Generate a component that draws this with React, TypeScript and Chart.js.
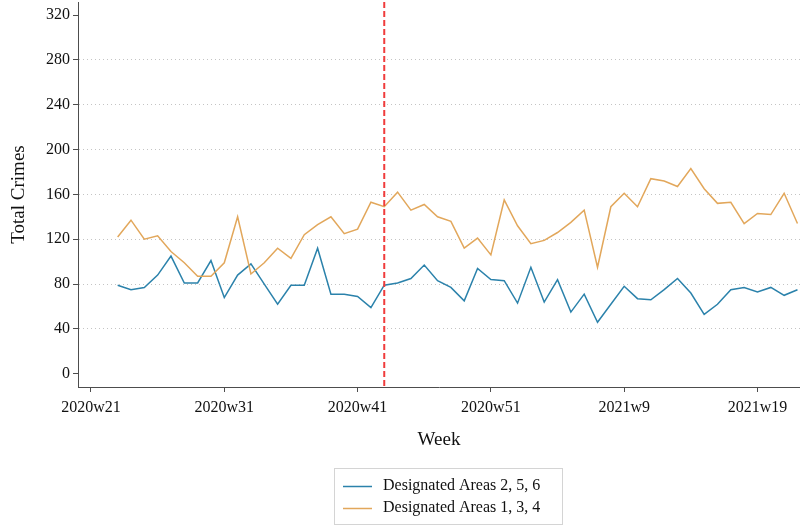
import { useEffect, useRef } from 'react';
import { Chart, registerables } from 'chart.js';

Chart.register(...registerables);

// Weekly observations (Stata-style weeks: 52 per year)
const weeks = [
  '2020w23', '2020w24', '2020w25', '2020w26', '2020w27', '2020w28', '2020w29', '2020w30',
  '2020w31', '2020w32', '2020w33', '2020w34', '2020w35', '2020w36', '2020w37', '2020w38',
  '2020w39', '2020w40', '2020w41', '2020w42', '2020w43', '2020w44', '2020w45', '2020w46',
  '2020w47', '2020w48', '2020w49', '2020w50', '2020w51', '2020w52',
  '2021w1', '2021w2', '2021w3', '2021w4', '2021w5', '2021w6', '2021w7', '2021w8',
  '2021w9', '2021w10', '2021w11', '2021w12', '2021w13', '2021w14', '2021w15', '2021w16',
  '2021w17', '2021w18', '2021w19', '2021w20', '2021w21', '2021w22',
];

// Total crimes, Designated Areas 2, 5, 6
const areas256 = [
  79, 75, 77, 88, 105, 81, 81, 101, 68, 88, 98, 80, 62, 79, 79, 112,
  71, 71, 69, 59, 79, 81, 85, 97, 83, 77, 65, 94, 84, 83, 63, 95,
  64, 84, 55, 71, 46, 62, 78, 67, 66, 75, 85, 72, 53, 62, 75, 77,
  73, 77, 70, 75,
];

// Total crimes, Designated Areas 1, 3, 4
const areas134 = [
  122, 137, 120, 123, 109, 99, 87, 87, 99, 140, 89, 99, 112, 103, 124, 133,
  140, 125, 129, 153, 149, 162, 146, 151, 140, 136, 112, 121, 106, 155, 132, 116,
  119, 126, 135, 146, 95, 149, 161, 149, 174, 172, 167, 183, 165, 152, 153, 134,
  143, 142, 161, 134,
];

const seriesLabels = ['Designated Areas 2, 5, 6', 'Designated Areas 1, 3, 4'];
const xTickLabels = ['2020w21', '2020w31', '2020w41', '2020w51', '2021w9', '2021w19'];
const yTickValues = [0, 40, 80, 120, 160, 200, 240, 280, 320];
const interventionWeek = '2020w43';

const SERIF = '"Liberation Serif", "Times New Roman", serif';
const AXIS_COLOR = '#4d4d4d';

function weekIndex(label: string): number {
  const [year, week] = label.split('w').map(Number);
  return year * 52 + week - 1;
}

function weekLabel(index: number): string {
  const year = Math.floor(index / 52);
  const week = Math.round(index - year * 52) + 1;
  return `${year}w${week}`;
}

// Vertical dashed marker at a given week
const markerLine = {
  id: 'markerLine',
  afterDatasetsDraw(chart: any, _args: any, opts: any) {
    const { ctx, chartArea } = chart;
    const x = chart.scales.x.getPixelForValue(opts.value);
    ctx.save();
    ctx.strokeStyle = opts.color;
    ctx.lineWidth = 2;
    ctx.setLineDash([6, 3]);
    ctx.beginPath();
    ctx.moveTo(x, chartArea.top);
    ctx.lineTo(x, chartArea.bottom);
    ctx.stroke();
    ctx.restore();
  },
};

// Boxed legend with one series per row
const boxLegend = {
  id: 'boxLegend',
  afterDraw(chart: any, _args: any, opts: any) {
    const { ctx } = chart;
    const left = Math.round(opts.centerX - opts.width / 2);
    const top = opts.top;
    ctx.save();
    ctx.strokeStyle = '#d4d4d4';
    ctx.lineWidth = 1;
    ctx.strokeRect(left + 0.5, top + 0.5, opts.width, opts.height);
    ctx.font = `16px ${SERIF}`;
    ctx.textAlign = 'left';
    ctx.textBaseline = 'middle';
    chart.data.datasets.forEach((ds: any, i: number) => {
      const y = top + 18 + i * 22;
      ctx.strokeStyle = ds.borderColor;
      ctx.lineWidth = 1.5;
      ctx.beginPath();
      ctx.moveTo(left + 9, y + 0.5);
      ctx.lineTo(left + 38, y + 0.5);
      ctx.stroke();
      ctx.fillStyle = '#111';
      ctx.fillText(ds.label, left + 49, y);
    });
    ctx.restore();
  },
};

export default function App() {
  const canvasRef = useRef<HTMLCanvasElement | null>(null);

  useEffect(() => {
    if (!canvasRef.current) return;
    const toPoints = (values: number[]) =>
      values.map((v, i) => ({ x: weekIndex(weeks[i]), y: v }));

    const chart = new Chart(canvasRef.current, {
      type: 'line',
      data: {
        datasets: [
          {
            label: seriesLabels[0],
            data: toPoints(areas256),
            borderColor: '#2b82ab',
            borderWidth: 1.5,
            pointRadius: 0,
            tension: 0,
            order: 1,
          },
          {
            label: seriesLabels[1],
            data: toPoints(areas134),
            borderColor: '#e2a75b',
            borderWidth: 1.5,
            pointRadius: 0,
            tension: 0,
            order: 0,
          },
        ],
      },
      options: {
        responsive: false,
        animation: false,
        layout: { padding: { top: 2, right: 0, bottom: 78, left: 0 } },
        scales: {
          x: {
            type: 'linear',
            min: weekIndex(xTickLabels[0]) - 0.975,
            max: weekIndex(weeks[weeks.length - 1]) + 0.19,
            afterBuildTicks: (scale: any) => {
              scale.ticks = xTickLabels.map((l) => ({ value: weekIndex(l) }));
            },
            afterFit: (scale: any) => {
              scale.height = 64;
              scale.paddingLeft = 0;
              scale.paddingRight = 0;
            },
            ticks: {
              callback: (v: any) => weekLabel(Number(v)),
              font: { family: SERIF, size: 16 },
              color: '#111',
              padding: 6,
              maxRotation: 0,
              autoSkip: false,
            },
            grid: {
              drawOnChartArea: false,
              drawTicks: true,
              tickLength: 5,
              tickColor: AXIS_COLOR,
            },
            border: { color: AXIS_COLOR, width: 1 },
            title: {
              display: true,
              text: 'Week',
              font: { family: SERIF, size: 19 },
              color: '#111',
              padding: { top: 11, bottom: 0 },
            },
          },
          y: {
            type: 'linear',
            min: -11.8,
            max: 331.6,
            afterBuildTicks: (scale: any) => {
              scale.ticks = yTickValues.map((v) => ({ value: v }));
            },
            afterFit: (scale: any) => {
              scale.width = 78;
              scale.paddingTop = 0;
              scale.paddingBottom = 0;
            },
            ticks: {
              callback: (v: any) => String(v),
              font: { family: SERIF, size: 16 },
              color: '#111',
              padding: 3,
            },
            grid: {
              color: (ctx: any) =>
                ctx.tick && ctx.tick.value > 0 && ctx.tick.value < 320
                  ? '#c4c4c4'
                  : 'rgba(0,0,0,0)',
              lineWidth: 1,
              drawTicks: true,
              tickLength: 5,
              tickColor: AXIS_COLOR,
            },
            border: { color: AXIS_COLOR, width: 1, dash: [1, 3] },
            title: {
              display: true,
              text: 'Total Crimes',
              font: { family: SERIF, size: 19 },
              color: '#111',
              padding: { top: 8, bottom: 0 },
            },
          },
        },
        plugins: {
          legend: { display: false },
          tooltip: { enabled: false },
          markerLine: { value: weekIndex(interventionWeek), color: '#f03c3c' },
          boxLegend: { centerX: 448, top: 468, width: 228, height: 56 },
        } as any,
      },
      plugins: [markerLine, boxLegend],
    });

    return () => chart.destroy();
  }, []);

  return (
    <div style={{ position: 'absolute', left: 0, top: 0, width: 800, height: 529, background: '#fff' }}>
      <canvas ref={canvasRef} width={800} height={529} style={{ display: 'block' }} />
    </div>
  );
}
